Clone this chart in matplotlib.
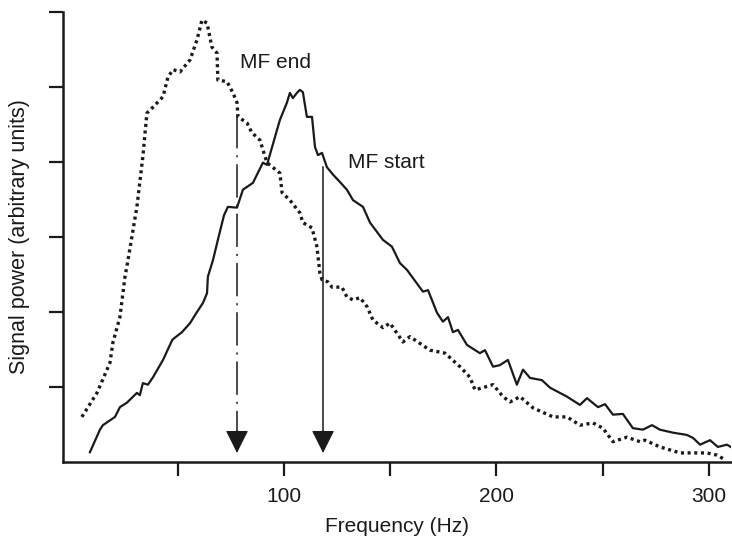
import matplotlib
matplotlib.use('Agg')
matplotlib.rc('font', **{'family': 'sans-serif', 'sans-serif': ['Liberation Sans', 'DejaVu Sans']})
import matplotlib.pyplot as plt
from matplotlib.patches import ArrowStyle

# Spectrum at the start of the fatigue run (solid line).
start_freq = [8.7, 13.4, 14.8, 20.5, 22.8, 26.1, 30.8, 32.2, 33.6, 36.0, 38.4, 43.1, 47.5, 52.0,
              55.8, 59.1, 61.9, 63.8, 64.2, 66.6, 68.9, 71.8, 73.6, 77.9, 80.7, 85.4, 90.1, 92.0,
              98.1, 101.4, 102.8, 104.2, 106.1, 107.5, 108.9, 110.8, 113.2, 114.6, 116.0, 117.9,
              120.2, 123.1, 126.4, 129.6, 132.5, 137.2, 140.5, 146.6, 150.8, 154.6, 157.9, 165.4,
              167.8, 172.0, 174.8, 177.2, 179.5, 181.9, 186.1, 192.2, 194.6, 198.4, 201.6, 205.4,
              209.6, 212.5, 215.8, 221.4, 225.2, 233.2, 239.3, 242.6, 247.8, 251.1, 254.8, 259.5,
              264.2, 268.9, 273.2, 276.9, 283.1, 289.6, 292.5, 295.8, 300.5, 304.2, 308.5, 310.8]
start_power = [0.13, 0.43, 0.49, 0.60, 0.73, 0.79, 0.92, 0.89, 1.05, 1.03, 1.13, 1.36, 1.63, 1.73,
               1.85, 2.00, 2.12, 2.25, 2.47, 2.69, 2.96, 3.29, 3.40, 3.39, 3.63, 3.72, 3.99, 3.96,
               4.56, 4.79, 4.92, 4.85, 4.92, 4.96, 4.93, 4.60, 4.60, 4.20, 4.09, 4.12,
               3.93, 3.83, 3.73, 3.63, 3.49, 3.40, 3.19, 2.96, 2.87, 2.65, 2.56, 2.27,
               2.29, 1.99, 1.87, 1.93, 1.73, 1.76, 1.56, 1.45, 1.49, 1.27, 1.29, 1.36,
               1.03, 1.23, 1.12, 1.09, 0.99, 0.87, 0.76, 0.85, 0.73, 0.77, 0.63, 0.64,
               0.45, 0.43, 0.49, 0.43, 0.39, 0.36, 0.32, 0.23, 0.29, 0.20, 0.23, 0.19]

# Spectrum at the end of the fatigue run (dotted line).
end_freq = [4.9, 12.0, 18.1, 19.5, 22.8, 25.2, 26.6, 30.8, 33.6, 35.5, 38.4, 43.1, 45.4, 47.8,
            51.1, 55.8, 59.1, 61.4, 63.8, 66.1, 68.5, 68.9, 73.2, 76.0, 77.9, 78.4, 82.6, 84.9,
            88.7, 92.0, 98.1, 99.1, 102.8, 107.5, 108.9, 113.2, 115.5, 116.9, 117.9, 120.7,
            122.6, 127.3, 129.6, 132.5, 135.8, 139.1, 141.9, 146.6, 149.9, 156.0, 159.3, 168.7,
            175.8, 182.8, 187.5, 189.9, 198.4, 203.1, 206.4, 211.1, 217.2, 226.6, 233.2, 239.3,
            245.4, 250.1, 254.8, 261.4, 267.5, 269.9, 276.9, 286.4, 292.5, 299.1, 303.8, 307.5]
end_power = [0.60, 0.92, 1.32, 1.59, 1.93, 2.47, 2.69, 3.40, 4.07, 4.65, 4.73, 4.87, 5.13, 5.23,
             5.20, 5.36, 5.63, 5.89, 5.85, 5.53, 5.45, 5.09, 5.07, 4.92, 4.79, 4.60, 4.52, 4.39,
             4.29, 3.99, 3.85, 3.59, 3.49, 3.32, 3.19, 3.12, 2.87, 2.52, 2.43, 2.40,
             2.33, 2.33, 2.20, 2.16, 2.19, 2.07, 1.89, 1.79, 1.85, 1.60, 1.67, 1.49,
             1.45, 1.27, 1.13, 0.96, 1.03, 0.87, 0.80, 0.87, 0.72, 0.60, 0.60, 0.49,
             0.52, 0.45, 0.27, 0.33, 0.27, 0.29, 0.20, 0.12, 0.12, 0.12, 0.09, 0.03]

# Median frequency markers: (label, frequency, top of arrow, label position).
mf_labels = ['MF end', 'MF start']
mf_freq = [77.9, 118.4]
mf_top = [4.63, 3.93]
mf_text_xy = [(79.3, 5.25), (130.1, 3.92)]

x_ticks = [50, 100, 150, 200, 250, 300]
x_tick_labels = ['', '100', '', '200', '', '300']
y_ticks = [1, 2, 3, 4, 5, 6]


def draw():
    plt.rcParams['lines.scale_dashes'] = False
    fig = plt.figure(figsize=(7.32, 5.39), dpi=100)
    ax = fig.add_axes([0.086, 0.143, 0.913, 0.835])

    ax.plot(start_freq, start_power, color='#1a1a1a', linewidth=1.6, solid_joinstyle='round')
    ax.plot(end_freq, end_power, color='#1a1a1a', linewidth=2.4,
            linestyle=(0, (2.2, 2.6)), dash_capstyle='butt')

    # Arrows marking the median frequencies.
    tip = 0.12
    head = ArrowStyle('-|>', head_length=1.0, head_width=0.5)
    styles = [(0, (24, 5, 1.5, 5)), '-']
    for label, f, top, (tx, ty), ls in zip(mf_labels, mf_freq, mf_top, mf_text_xy, styles):
        ax.plot([f, f], [top, tip + 0.2], color='#1a1a1a', linewidth=1.1, linestyle=ls)
        ax.annotate('', xy=(f, tip), xytext=(f, tip + 0.3),
                    arrowprops=dict(arrowstyle=head, mutation_scale=14.5,
                                    color='#1a1a1a', linewidth=0.8, shrinkA=0, shrinkB=0))
        ax.text(tx, ty, label, fontsize=15, color='#1a1a1a', va='baseline', ha='left')

    ax.set_xlim(-4, 310.5)
    ax.set_ylim(0, 6)
    ax.set_xticks(x_ticks)
    ax.set_xticklabels(x_tick_labels)
    ax.set_yticks(y_ticks)
    ax.set_yticklabels([])

    ax.spines['top'].set_visible(False)
    ax.spines['right'].set_visible(False)
    for side in ['left', 'bottom']:
        ax.spines[side].set_linewidth(1.8)
        ax.spines[side].set_color('#1a1a1a')
    ax.tick_params(direction='out', length=10, width=1.6, color='#1a1a1a',
                   labelsize=15, labelcolor='#1a1a1a', pad=8)

    ax.set_xlabel('Frequency (Hz)', fontsize=15, color='#1a1a1a', labelpad=8)
    ax.set_ylabel('Signal power (arbitrary units)', fontsize=15.5, color='#1a1a1a', labelpad=6)

    fig.savefig('out.png', dpi=100)


if __name__ == '__main__':
    draw()
